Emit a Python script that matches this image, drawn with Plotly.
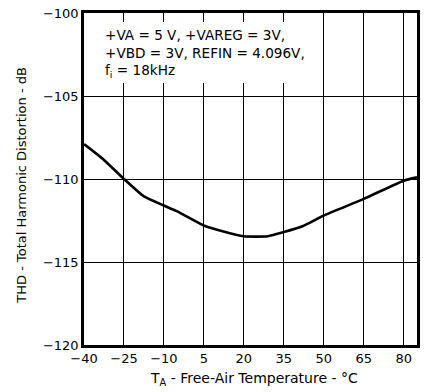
import plotly.graph_objects as go

# Data
temps = [-40, -32.5, -25, -17.5, -10, -5, 5, 12, 20, 29, 35, 42, 50, 65, 80, 85]
thd = [-107.9, -108.85, -110.0, -111.05, -111.6, -111.95, -112.8, -113.15,
       -113.45, -113.45, -113.2, -112.85, -112.2, -111.2, -110.1, -109.9]

x_ticks = [-40, -25, -10, 5, 20, 35, 50, 65, 80]
y_ticks = [-120, -115, -110, -105, -100]

FONT = "DejaVu Sans, Liberation Sans, Arial, sans-serif"
SIZE = 13

fig = go.Figure()
fig.add_trace(go.Scatter(x=temps, y=thd, mode="lines",
                         line=dict(color="black", width=2.6, shape="spline", smoothing=0.5),
                         showlegend=False, hoverinfo="skip"))

# white backing of the condition note
fig.add_shape(type="rect", xref="paper", yref="paper",
              x0=0.008, x1=0.703, y0=0.789, y1=0.973,
              fillcolor="white", line=dict(width=0), layer="above")

fig.add_annotation(xref="paper", yref="paper", x=0.058, y=0.964,
                   xanchor="left", yanchor="top", align="left", showarrow=False,
                   text="+VA = 5 V, +VAREG = 3V,<br>+VBD = 3V, REFIN = 4.096V,<br>f<sub>i</sub> = 18kHz",
                   font=dict(family=FONT, size=13.6, color="black"))

# axis titles
fig.add_annotation(xref="paper", yref="paper", x=0.51, y=-0.103,
                   xanchor="center", yanchor="middle", showarrow=False,
                   text="T<sub>A</sub> - Free-Air Temperature - °C",
                   font=dict(family=FONT, size=14, color="black"))
fig.add_annotation(xref="paper", yref="paper", x=-0.186, y=0.48,
                   xanchor="center", yanchor="middle", showarrow=False, textangle=-90,
                   text="THD - Total Harmonic Distortion - dB",
                   font=dict(family=FONT, size=SIZE, color="black"))

axis_common = dict(showline=True, linecolor="black", linewidth=2.6, mirror=True,
                   showgrid=True, gridcolor="black", gridwidth=1,
                   zeroline=False, ticks="",
                   tickfont=dict(family=FONT, size=SIZE, color="black"))

fig.update_xaxes(range=[-40, 85], tickvals=x_ticks, **axis_common)
fig.update_yaxes(range=[-120, -100], tickvals=y_ticks, **axis_common)

fig.update_layout(width=426, height=392,
                  margin=dict(l=84, r=9, t=13, b=47, autoexpand=False),
                  plot_bgcolor="white", paper_bgcolor="white",
                  font=dict(family=FONT, size=SIZE, color="black"))

fig.write_html("out.html")
